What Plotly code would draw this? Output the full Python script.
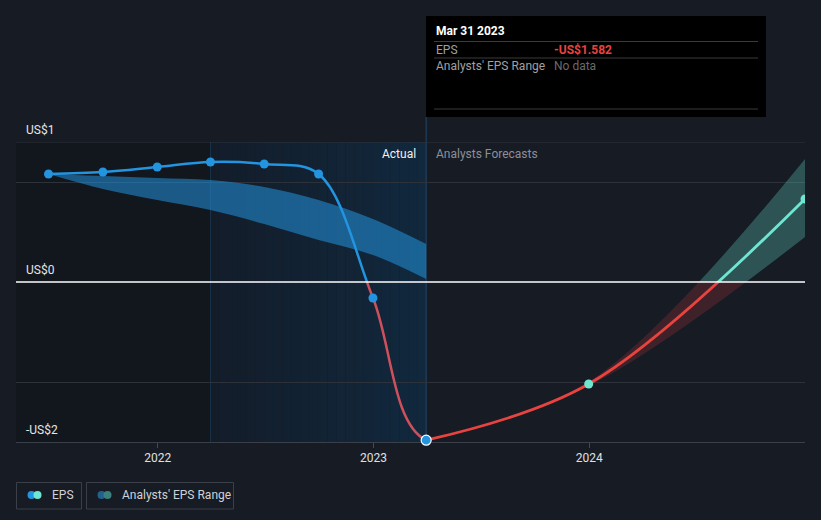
import plotly.graph_objects as go
import pandas as pd

# ---------------- data ----------------
actual_dates = ["2021-06-30", "2021-09-30", "2021-12-31", "2022-03-31",
                "2022-06-30", "2022-09-30", "2022-12-31", "2023-03-31"]
actual_eps = [1.08, 1.10, 1.15, 1.20, 1.18, 1.08, -0.16, -1.582]

hist_range_dates = actual_dates
hist_range_high = [1.08, 1.06, 1.04, 1.02, 0.95, 0.82, 0.63, 0.38]
hist_range_low = [1.08, 0.93, 0.82, 0.72, 0.58, 0.42, 0.27, 0.03]

forecast_dates = ["2023-03-31", "2023-12-31", "2024-12-31"]
forecast_eps = [-1.582, -1.02, 0.83]
forecast_high = [-1.582, -1.00, 1.23]
forecast_low = [-1.582, -1.04, 0.45]

x_tick_vals = ["2022-01-01", "2023-01-01", "2024-01-01"]
x_tick_text = ["2022", "2023", "2024"]
y_grid_vals = [-1, 1]
y_label_text = ["US$1", "US$0", "-US$2"]
y_label_vals = [1.4, 0, -1.6]

X_RANGE = ["2021-05-06", "2024-12-31"]
Y_MIN, Y_MAX = -1.6, 1.4
NOW_DATE = "2023-03-31"
PAST_DATE = "2022-03-31"

# ---------------- style ----------------
BG = "#161b24"
BLUE = "#2394df"
BLUE_NEG = "#cf4f5b"
TEAL = "#6ee6d2"
RED = "#e8433f"
FONT = "Roboto, 'Open Sans', sans-serif"
CLEAR = "rgba(0,0,0,0)"

W, H = 821, 520
L, R, T, B = 16, 16, 142, 78


def px2x(px):
    return (px - L) / (W - L - R)


def py2y(py):
    return (H - B - py) / (H - T - B)


f0 = (0 - Y_MIN) / (Y_MAX - Y_MIN)
xr0, xr1, xnow = pd.Timestamp(X_RANGE[0]), pd.Timestamp(X_RANGE[1]), pd.Timestamp(NOW_DATE)
fnow = (xnow - xr0) / (xr1 - xr0)

# the actual line is drawn through the whole EPS series (so its curve joins the
# forecast smoothly) but clipped to the "actual" part of the chart
full_dates = actual_dates + forecast_dates[1:]
full_eps = actual_eps + forecast_eps[1:]

fig = go.Figure()

# historical analyst range band (main axes)
fig.add_trace(go.Scatter(x=hist_range_dates, y=hist_range_high, mode="lines",
                         line=dict(width=0, shape="spline"), showlegend=False,
                         hoverinfo="skip"))
fig.add_trace(go.Scatter(x=hist_range_dates, y=hist_range_low, mode="lines",
                         line=dict(width=0, shape="spline"), fill="tonexty",
                         fillcolor="rgba(35,148,223,0.55)", showlegend=False,
                         hoverinfo="skip"))

# forecast band: above zero (x4,y4) teal, below zero (x5,y5) red
for ax, col in (("4", "rgba(110,230,210,0.28)"), ("5", "rgba(232,67,63,0.20)")):
    fig.add_trace(go.Scatter(x=forecast_dates, y=forecast_high, mode="lines",
                             line=dict(width=0, shape="spline"), xaxis="x" + ax,
                             yaxis="y" + ax, showlegend=False, hoverinfo="skip"))
    fig.add_trace(go.Scatter(x=forecast_dates, y=forecast_low, mode="lines",
                             line=dict(width=0, shape="spline"), fill="tonexty",
                             fillcolor=col, xaxis="x" + ax, yaxis="y" + ax,
                             showlegend=False, hoverinfo="skip"))

# actual EPS line: blue above zero (x2,y2), muted red below zero (x3,y3)
fig.add_trace(go.Scatter(x=full_dates, y=full_eps, mode="lines",
                         line=dict(color=BLUE, width=2.5, shape="spline"),
                         xaxis="x2", yaxis="y2", showlegend=False, hoverinfo="skip"))
fig.add_trace(go.Scatter(x=full_dates, y=full_eps, mode="lines",
                         line=dict(color=BLUE_NEG, width=2.5, shape="spline"),
                         xaxis="x3", yaxis="y3", showlegend=False, hoverinfo="skip"))

# forecast EPS line: teal above zero, red below zero
fig.add_trace(go.Scatter(x=forecast_dates, y=forecast_eps, mode="lines",
                         line=dict(color=TEAL, width=2.8, shape="spline"),
                         xaxis="x4", yaxis="y4", showlegend=False, hoverinfo="skip"))
fig.add_trace(go.Scatter(x=forecast_dates, y=forecast_eps, mode="lines",
                         line=dict(color=RED, width=2.8, shape="spline"),
                         xaxis="x5", yaxis="y5", showlegend=False, hoverinfo="skip"))

# markers (on the last subplot so they are drawn above every line)
fig.add_trace(go.Scatter(x=actual_dates[:-1], y=actual_eps[:-1], mode="markers",
                         marker=dict(color=BLUE, size=9), showlegend=False,
                         xaxis="x6", yaxis="y6", hoverinfo="skip"))
fig.add_trace(go.Scatter(x=forecast_dates[1:], y=forecast_eps[1:], mode="markers",
                         marker=dict(color=TEAL, size=9), showlegend=False,
                         xaxis="x6", yaxis="y6", hoverinfo="skip"))
fig.add_trace(go.Scatter(x=[actual_dates[-1]], y=[actual_eps[-1]], mode="markers",
                         marker=dict(color=BLUE, size=10, line=dict(color="white", width=1.2)),
                         showlegend=False, hoverinfo="skip", cliponaxis=False,
                         xaxis="x6", yaxis="y6"))

shapes = []
# darker past region
shapes.append(dict(type="rect", xref="x", yref="paper", x0=X_RANGE[0], x1=PAST_DATE,
                   y0=0, y1=1, fillcolor="#12161d", line=dict(width=0), layer="below"))
# highlighted last-year region as gradient stripes
n = 24
edges = pd.date_range(PAST_DATE, NOW_DATE, periods=n + 1)
c0 = (19, 29, 42)
c1 = (17, 40, 61)
for i in range(n):
    t = i / (n - 1)
    c = tuple(round(c0[k] + (c1[k] - c0[k]) * t) for k in range(3))
    shapes.append(dict(type="rect", xref="x", yref="paper", x0=edges[i], x1=edges[i + 1],
                       y0=0, y1=1, fillcolor="rgb(%d,%d,%d)" % c,
                       line=dict(width=0), layer="below"))
# vertical lines
shapes.append(dict(type="line", xref="x", yref="paper", x0=PAST_DATE, x1=PAST_DATE,
                   y0=0, y1=1, line=dict(color="#1b3249", width=1), layer="below"))
shapes.append(dict(type="line", xref="x", yref="paper", x0=NOW_DATE, x1=NOW_DATE,
                   y0=0, y1=py2y(117), line=dict(color="#24476a", width=1), layer="below"))
# top gridline
shapes.append(dict(type="line", xref="paper", yref="y", x0=0, x1=1, y0=Y_MAX, y1=Y_MAX,
                   line=dict(color="#2f343d", width=1), layer="below"))
# zero line
shapes.append(dict(type="line", xref="paper", yref="y", x0=0, x1=1, y0=0, y1=0,
                   line=dict(color="white", width=1.5), layer="above"))

# tooltip box
shapes.append(dict(type="rect", xref="paper", yref="paper", x0=px2x(426), x1=px2x(766),
                   y0=py2y(117), y1=py2y(16), fillcolor="#000000", line=dict(width=0)))
for sy in (41.5, 58, 109):
    shapes.append(dict(type="line", xref="paper", yref="paper", x0=px2x(434), x1=px2x(758),
                       y0=py2y(sy), y1=py2y(sy), line=dict(color="#3b3b3b", width=1)))

# legend boxes
shapes.append(dict(type="rect", xref="paper", yref="paper", x0=px2x(16.5), x1=px2x(81.5),
                   y0=py2y(509), y1=py2y(482.5), line=dict(color="#3a3f48", width=1),
                   fillcolor=CLEAR))
shapes.append(dict(type="rect", xref="paper", yref="paper", x0=px2x(86.5), x1=px2x(233.5),
                   y0=py2y(509), y1=py2y(482.5), line=dict(color="#3a3f48", width=1),
                   fillcolor=CLEAR))
for cx, col in ((31.5, BLUE), (37.5, TEAL), (101.5, "#22608e"), (107.5, "#3b807d")):
    shapes.append(dict(type="circle", xref="paper", yref="paper",
                       x0=px2x(cx - 4), x1=px2x(cx + 4), y0=py2y(499), y1=py2y(491),
                       fillcolor=col, line=dict(width=0)))

annotations = []
# y labels
for txt, v in zip(y_label_text, y_label_vals):
    annotations.append(dict(text=txt, xref="paper", yref="y", x=0, y=v, xshift=8,
                            yshift=12, xanchor="left", yanchor="middle", showarrow=False,
                            font=dict(color="#e6e6e6", size=12, family=FONT)))
# Actual / forecast labels
annotations.append(dict(text="Actual", xref="x", yref="paper", x=NOW_DATE, y=py2y(154),
                        xanchor="right", yanchor="middle", xshift=-8, showarrow=False,
                        font=dict(color="#f0f0f0", size=12, family=FONT)))
annotations.append(dict(text="Analysts Forecasts", xref="x", yref="paper", x=NOW_DATE,
                        y=py2y(154), xanchor="left", yanchor="middle", xshift=8,
                        showarrow=False, font=dict(color="#8b9099", size=12, family=FONT)))
# tooltip texts
tt = [("Mar 31 2023", 434, 31, "#ffffff", True),
      ("EPS", 434, 49.5, "#a0a0a0", False),
      ("-US$1.582", 552, 49.5, RED, True),
      ("Analysts' EPS Range", 434, 66, "#a0a0a0", False),
      ("No data", 552, 66, "#6a6a6a", False)]
for txt, x, y, col, bold in tt:
    annotations.append(dict(text="<b>%s</b>" % txt if bold else txt, xref="paper",
                            yref="paper", x=px2x(x), y=py2y(y), xanchor="left",
                            yanchor="middle", showarrow=False,
                            font=dict(color=col, size=12, family=FONT)))
# legend texts
annotations.append(dict(text="EPS", xref="paper", yref="paper", x=px2x(50), y=py2y(495),
                        xanchor="left", yanchor="middle", showarrow=False,
                        font=dict(color="#cfd2d6", size=12, family=FONT)))
annotations.append(dict(text="Analysts' EPS Range", xref="paper", yref="paper", x=px2x(120),
                        y=py2y(495), xanchor="left", yanchor="middle", showarrow=False,
                        font=dict(color="#cfd2d6", size=12, family=FONT)))

hidden = dict(visible=False)
fig.update_layout(
    width=W, height=H,
    margin=dict(l=L, r=R, t=T, b=B),
    paper_bgcolor=BG, plot_bgcolor=CLEAR,
    hovermode=False, showlegend=False,
    font=dict(family=FONT, color="#e6e6e6", size=12),
    xaxis=dict(domain=[0, 1], range=X_RANGE, type="date", anchor="y",
               tickvals=x_tick_vals, ticktext=x_tick_text, showgrid=False,
               ticks="outside", ticklen=5, tickcolor="#444a54", tickwidth=1,
               showline=True, linecolor="#3a3f48", linewidth=1, zeroline=False,
               tickfont=dict(color="#e0e0e0", size=12, family=FONT)),
    yaxis=dict(domain=[0, 1], range=[Y_MIN, Y_MAX], anchor="x", tickvals=y_grid_vals,
               showticklabels=False, gridcolor="#2c313a", gridwidth=1, zeroline=False,
               showline=False),
    # actual line, clipped to the actual period and split at zero
    xaxis2=dict(domain=[0, fnow], range=[X_RANGE[0], NOW_DATE], type="date", anchor="y2", **hidden),
    yaxis2=dict(domain=[f0, 1], range=[0, Y_MAX], anchor="x2", **hidden),
    xaxis3=dict(domain=[0, fnow], range=[X_RANGE[0], NOW_DATE], type="date", anchor="y3", **hidden),
    yaxis3=dict(domain=[0, f0], range=[Y_MIN, 0], anchor="x3", **hidden),
    # forecast, split at zero
    xaxis4=dict(domain=[0, 1], range=X_RANGE, type="date", anchor="y4", **hidden),
    yaxis4=dict(domain=[f0, 1], range=[0, Y_MAX], anchor="x4", **hidden),
    xaxis5=dict(domain=[0, 1], range=X_RANGE, type="date", anchor="y5", **hidden),
    yaxis5=dict(domain=[0, f0], range=[Y_MIN, 0], anchor="x5", **hidden),
    # markers
    xaxis6=dict(domain=[0, 1], range=X_RANGE, type="date", anchor="y6", **hidden),
    yaxis6=dict(domain=[0, 1], range=[Y_MIN, Y_MAX], anchor="x6", **hidden),
    shapes=shapes, annotations=annotations,
)

fig.write_html("out.html", config={"displayModeBar": False},
               post_script="document.body.style.margin='0';document.body.style.background='%s';" % BG)
